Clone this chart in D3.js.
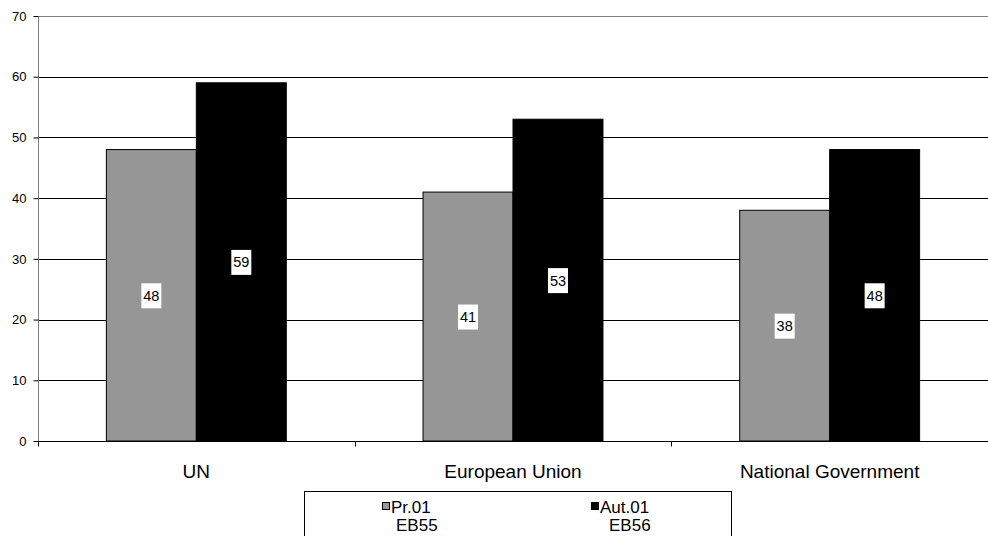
<!DOCTYPE html>
<html><head><meta charset="utf-8">
<script src="https://cdn.jsdelivr.net/npm/d3@7"></script>
<style>body{margin:0;background:#fff}svg{display:block;font-family:Arial,"Liberation Sans",sans-serif}</style>
</head><body><svg id="c" width="988" height="536"></svg>
<script>
const categories = ["UN", "European Union", "National Government"];
const seriesNames = ["Pr.01", "Aut.01"];
const seriesSub = ["EB55", "EB56"];
const seriesColors = ["#969696", "#000000"];
const pr01 = [48, 41, 38];
const aut01 = [59, 53, 48];
const yTicks = [0, 10, 20, 30, 40, 50, 60, 70];

(function () {
const svg = d3.select("#c");
const pL = 38, pR = 988, pT = 16, pB = 441;
const x = d3.scaleBand().domain(categories).range([pL, pR]).padding(0);
const y = d3.scaleLinear().domain([0, 70]).range([pB, pT]);
const xs = d3.scaleBand().domain([0, 1]).range([0, x.bandwidth()]).paddingInner(0).paddingOuter(0.76);

// gridlines
svg.append("g").selectAll("line").data(yTicks.filter(d => d > 0)).join("line")
  .attr("x1", pL).attr("x2", pR).attr("y1", d => Math.round(y(d)) + 0.5).attr("y2", d => Math.round(y(d)) + 0.5)
  .attr("stroke", d => d === 70 ? "#808080" : "#000").attr("stroke-width", 1);

const data = categories.map((c, i) => ({c, vals: [pr01[i], aut01[i]]}));
const g = svg.append("g").selectAll("g").data(data).join("g").attr("transform", d => `translate(${x(d.c)},0)`);
g.selectAll("rect").data(d => d.vals.map((v, k) => ({v, k}))).join("rect")
  .attr("x", d => xs(d.k)).attr("width", xs.bandwidth())
  .attr("y", d => y(d.v)).attr("height", d => y(0) - y(d.v))
  .attr("fill", d => seriesColors[d.k]).attr("stroke", "#000").attr("stroke-width", 1);

// labels
const lab = g.selectAll("g.lab").data(d => d.vals.map((v, k) => ({v, k}))).join("g").attr("class", "lab")
  .attr("transform", d => `translate(${xs(d.k) + xs.bandwidth() / 2},${y(d.v / 2)})`);
lab.append("rect").attr("x", -10).attr("y", -12).attr("width", 20).attr("height", 25).attr("fill", "#fff");
lab.append("text").attr("text-anchor", "middle").attr("dy", "0.38em").attr("font-size", 14.5).attr("fill", "#000").text(d => d.v);

// y axis
const ya = svg.append("g").attr("transform", `translate(${pL + 0.5},0)`)
  .call(d3.axisLeft(y).tickValues(yTicks).tickSize(5).tickSizeOuter(0).tickPadding(7));
ya.select(".domain").attr("stroke", "#808080").attr("d", `M0,${pT}V${pB + 5}`);
ya.selectAll(".tick line").attr("stroke", "#000");
ya.selectAll(".tick text").attr("font-size", 13).attr("fill", "#000").attr("font-family", "Arial, 'Liberation Sans', sans-serif");

// x axis
const xa = svg.append("g").attr("transform", `translate(0,${Math.round(pB) + 0.5})`);
xa.append("line").attr("x1", pL).attr("x2", pR).attr("stroke", "#000");
xa.selectAll("line.t").data(categories).join("line").attr("class", "t")
  .attr("x1", d => Math.round(x(d)) + 0.5).attr("x2", d => Math.round(x(d)) + 0.5).attr("y1", 0).attr("y2", 5).attr("stroke", "#000");
xa.selectAll("text").data(categories).join("text")
  .attr("x", d => x(d) + x.bandwidth() / 2).attr("y", 36).attr("text-anchor", "middle")
  .attr("font-size", 19).attr("fill", "#000").text(d => d);

// legend
const lg = svg.append("g");
lg.append("rect").attr("x", 304.5).attr("y", 491.5).attr("width", 427).attr("height", 60).attr("fill", "#fff").attr("stroke", "#000");
const lx = [382, 591];
seriesNames.forEach((n, i) => {
  lg.append("rect").attr("x", lx[i] + 0.5).attr("y", 502.5).attr("width", 7).attr("height", 7)
    .attr("fill", seriesColors[i]).attr("stroke", "#000");
  lg.append("text").attr("x", lx[i] + 9).attr("y", 513).attr("font-size", 17).attr("fill", "#000").text(n);
  lg.append("text").attr("x", lx[i] + (i === 1 ? 18 : 14)).attr("y", 531).attr("font-size", 17).attr("fill", "#000").text(seriesSub[i]);
});
})();
</script></body></html>
